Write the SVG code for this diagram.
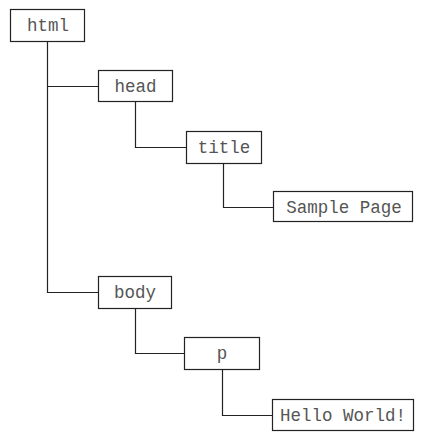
<svg xmlns="http://www.w3.org/2000/svg" width="431" height="440" viewBox="0 0 431 440">
  <style>
    .box { fill: #ffffff; stroke: #222222; stroke-width: 1.2; }
    .lbl { font-family: "Liberation Mono", "Courier New", monospace; font-size: 17.5px; fill: #555555; text-anchor: middle; }
    .wire { fill: none; stroke: #222222; stroke-width: 1.2; }
  </style>
  <rect width="431" height="440" fill="#ffffff"/>

  <!-- tree edges -->
  <g id="connectors">
    <path class="wire" d="M47.5 41 V292.5 H98"/>
    <path class="wire" d="M47.5 86.5 H98"/>
    <path class="wire" d="M135.5 101 V147.5 H186"/>
    <path class="wire" d="M223.5 163 V207.5 H273"/>
    <path class="wire" d="M135.5 308 V353.5 H184"/>
    <path class="wire" d="M222.5 369 V415.5 H272"/>
  </g>

  <!-- element nodes -->
  <g id="html">
    <rect class="box" x="10.5" y="9.5" width="74" height="32"/>
    <text class="lbl" x="48" y="31">html</text>
  </g>
  <g id="head">
    <rect class="box" x="98.5" y="70.5" width="74" height="31"/>
    <text class="lbl" x="135.5" y="92">head</text>
  </g>
  <g id="title">
    <rect class="box" x="186.5" y="131.5" width="75" height="32"/>
    <text class="lbl" x="224" y="153">title</text>
  </g>
  <g id="sample-page">
    <rect class="box" x="273.5" y="191.5" width="139" height="30"/>
    <text class="lbl" x="344" y="213">Sample Page</text>
  </g>
  <g id="body">
    <rect class="box" x="98.5" y="276.5" width="73" height="32"/>
    <text class="lbl" x="135" y="298">body</text>
  </g>
  <g id="p">
    <rect class="box" x="184.5" y="337.5" width="75" height="32"/>
    <text class="lbl" x="222" y="359">p</text>
  </g>
  <g id="hello-world">
    <rect class="box" x="272.5" y="399.5" width="141" height="31"/>
    <text class="lbl" x="343" y="421">Hello World!</text>
  </g>
</svg>
